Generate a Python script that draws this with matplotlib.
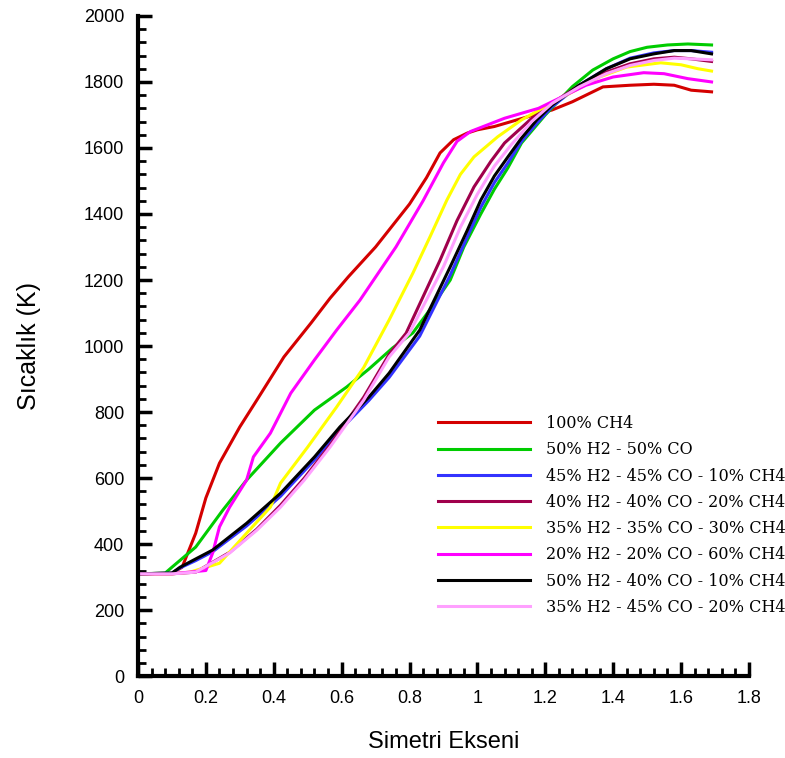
import matplotlib
matplotlib.use('Agg')
import matplotlib.pyplot as plt
from matplotlib.ticker import MultipleLocator, FormatStrFormatter

# data (x: Simetri Ekseni, T: Sicaklik K)
labels = ['100% CH4', '50% H2 - 50% CO', '45% H2 - 45% CO - 10% CH4',
          '40% H2 - 40% CO - 20% CH4', '35% H2 - 35% CO - 30% CH4',
          '20% H2 - 20% CO - 60% CH4', '50% H2 - 40% CO - 10% CH4',
          '35% H2 - 45% CO - 20% CH4']
colors = ['#d40000', '#00cc00', '#3333ff', '#a0004c', '#ffff00',
          '#ff00ff', '#000000', '#ffa0ff']

x_red = [0, 0.1, 0.13, 0.17, 0.2, 0.24, 0.3, 0.35, 0.43, 0.51, 0.566, 0.62, 0.7, 0.8, 0.85,
         0.89, 0.93, 0.97, 1.0, 1.05, 1.1, 1.15, 1.22, 1.28, 1.37, 1.45, 1.52, 1.58, 1.63, 1.69]
t_red = [310, 312, 330, 433, 540, 645, 755, 836, 967, 1070, 1145, 1210, 1300, 1430, 1510,
         1585, 1625, 1645, 1655, 1665, 1680, 1695, 1715, 1740, 1785, 1790, 1793, 1790, 1775, 1770]

x_green = [0, 0.08, 0.1, 0.17, 0.25, 0.32, 0.42, 0.52, 0.615, 0.68, 0.75, 0.81, 0.86, 0.92,
           0.96, 1.01, 1.05, 1.09, 1.13, 1.2, 1.28, 1.34, 1.4, 1.45, 1.5, 1.56, 1.62, 1.69]
t_green = [310, 312, 330, 391, 503, 594, 706, 806, 876, 930, 994, 1040, 1110, 1200,
           1300, 1400, 1475, 1540, 1615, 1700, 1786, 1836, 1870, 1892, 1905, 1912, 1915, 1912]

x_blue = [0, 0.1, 0.124, 0.17, 0.22, 0.32, 0.42, 0.52, 0.595, 0.68, 0.74, 0.83, 0.92, 0.97,
          1.01, 1.05, 1.09, 1.13, 1.175, 1.22, 1.3, 1.38, 1.45, 1.52, 1.58, 1.63, 1.69]
t_blue = [310, 312, 328, 350, 377, 455, 545, 655, 745, 835, 905, 1030, 1215, 1330,
          1420, 1495, 1555, 1620, 1675, 1725, 1790, 1840, 1872, 1888, 1895, 1895, 1890]

x_purple = [0, 0.1, 0.17, 0.27, 0.35, 0.42, 0.49, 0.566, 0.665, 0.74, 0.79, 0.89, 0.94, 0.99,
            1.04, 1.08, 1.155, 1.22, 1.3, 1.38, 1.45, 1.52, 1.58, 1.63, 1.69]
t_purple = [310, 310, 315, 375, 445, 518, 600, 700, 845, 975, 1039, 1260, 1380, 1482,
            1560, 1615, 1685, 1735, 1790, 1830, 1855, 1870, 1875, 1870, 1862]

x_yellow = [0, 0.1, 0.153, 0.24, 0.32, 0.39, 0.42, 0.5, 0.585, 0.665, 0.74, 0.81, 0.86, 0.91,
            0.95, 0.99, 1.06, 1.13, 1.2, 1.28, 1.36, 1.44, 1.54, 1.6, 1.65, 1.69]
t_yellow = [310, 310, 315, 342, 433, 512, 585, 694, 815, 935, 1079, 1221, 1330, 1442,
            1520, 1573, 1634, 1685, 1725, 1770, 1815, 1845, 1858, 1852, 1840, 1833]

x_magenta = [0, 0.1, 0.2, 0.22, 0.24, 0.27, 0.32, 0.34, 0.39, 0.45, 0.52, 0.585, 0.654, 0.76,
             0.84, 0.9, 0.94, 0.98, 1.03, 1.08, 1.18, 1.25, 1.32, 1.4, 1.49, 1.55, 1.62, 1.69]
t_magenta = [310, 310, 320, 373, 452, 512, 594, 664, 736, 857, 958, 1048, 1139, 1300,
             1440, 1555, 1620, 1650, 1670, 1690, 1720, 1755, 1790, 1815, 1828, 1825, 1810, 1800]

x_black = [0, 0.1, 0.124, 0.17, 0.22, 0.32, 0.42, 0.52, 0.595, 0.68, 0.74, 0.83, 0.92, 0.97,
           1.01, 1.05, 1.09, 1.13, 1.175, 1.22, 1.3, 1.38, 1.45, 1.52, 1.58, 1.63, 1.69]
t_black = [310, 312, 330, 355, 382, 463, 554, 664, 755, 845, 918, 1048, 1240, 1350,
           1442, 1515, 1573, 1630, 1685, 1730, 1790, 1840, 1870, 1885, 1895, 1895, 1885]

x_pink = [0, 0.1, 0.17, 0.27, 0.35, 0.42, 0.49, 0.566, 0.665, 0.74, 0.8, 0.9, 0.95, 1.0,
          1.05, 1.1, 1.16, 1.22, 1.3, 1.38, 1.45, 1.52, 1.58, 1.63, 1.69]
t_pink = [310, 310, 315, 373, 442, 512, 594, 694, 836, 967, 1040, 1240, 1360, 1460,
          1545, 1610, 1680, 1735, 1785, 1825, 1850, 1865, 1872, 1870, 1867]

series = [(x_red, t_red), (x_green, t_green), (x_blue, t_blue), (x_purple, t_purple),
          (x_yellow, t_yellow), (x_magenta, t_magenta), (x_black, t_black), (x_pink, t_pink)]

fig = plt.figure(figsize=(7.85, 7.58), dpi=100)
ax = fig.add_axes([0.1758, 0.108, 0.7782, 0.871])

for (xs, ts), lab, c in zip(series, labels, colors):
    ax.plot(xs, ts, color=c, lw=2.2, label=lab)

ax.set_xlim(0, 1.8)
ax.set_ylim(0, 2000)
ax.xaxis.set_major_locator(MultipleLocator(0.2))
ax.xaxis.set_minor_locator(MultipleLocator(0.04))
ax.yaxis.set_major_locator(MultipleLocator(200))
ax.yaxis.set_minor_locator(MultipleLocator(40))
ax.xaxis.set_major_formatter(FormatStrFormatter('%g'))

for s in ['top', 'right']:
    ax.spines[s].set_visible(False)
for s in ['left', 'bottom']:
    ax.spines[s].set_linewidth(3)

ax.tick_params(which='major', direction='in', length=10, width=2.5, pad=10,
               labelsize=13)
ax.tick_params(which='minor', direction='in', length=6, width=2)
for lab in ax.get_xticklabels() + ax.get_yticklabels():
    lab.set_fontname('Liberation Sans')

ax.set_xlabel('Simetri Ekseni', fontsize=17, fontname='Liberation Sans', labelpad=17)
ax.set_ylabel('Sıcaklık (K)', fontsize=18, fontname='Liberation Sans', labelpad=31)

ax.legend(loc='upper left', bbox_to_anchor=(0.558, 0.4525), bbox_transform=fig.transFigure,
          frameon=False, prop={'family': 'DejaVu Serif', 'size': 11.5},
          handlelength=5.75, handletextpad=1.0, labelspacing=0.58,
          borderpad=0, borderaxespad=0)

plt.savefig('out.png', dpi=100)
